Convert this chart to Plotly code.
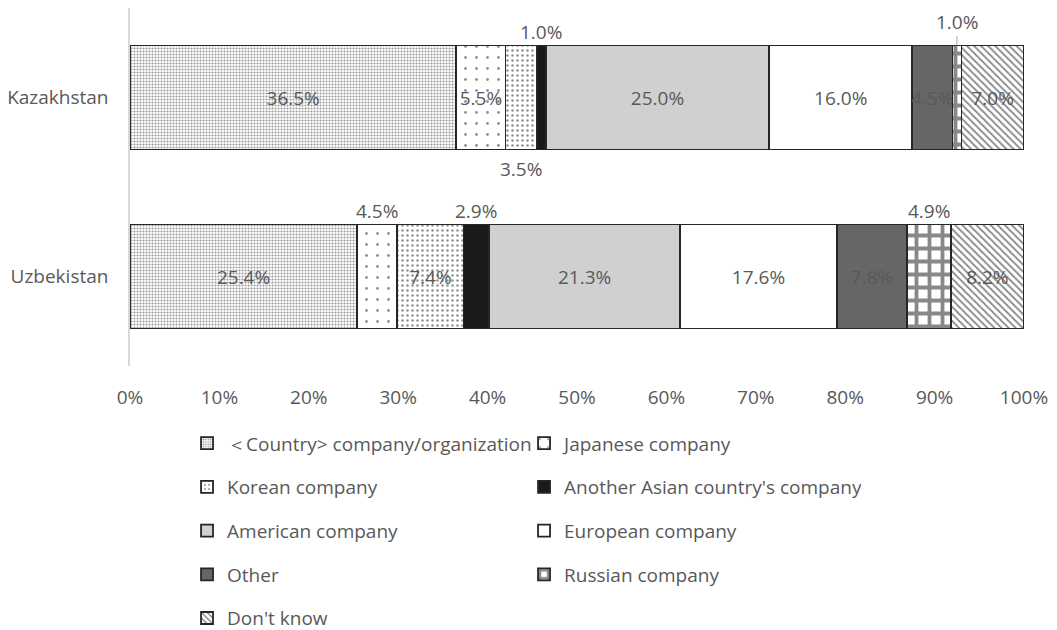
import plotly.graph_objects as go

# ---------------- data ----------------
countries = ["Kazakhstan", "Uzbekistan"]
series_names = [
    "＜Country> company/organization",
    "Japanese company",
    "Korean company",
    "Another Asian country's company",
    "American company",
    "European company",
    "Other",
    "Russian company",
    "Don't know",
]
kazakhstan_values = [36.5, 5.5, 3.5, 1.0, 25.0, 16.0, 4.5, 1.0, 7.0]
uzbekistan_values = [25.4, 4.5, 7.4, 2.9, 21.3, 17.6, 7.8, 4.9, 8.2]
x_tick_values = [0, 10, 20, 30, 40, 50, 60, 70, 80, 90, 100]
x_tick_labels = [f"{v}%" for v in x_tick_values]

# ---------------- styles ----------------
TXT = "#595959"
FONT = "Open Sans"
FS = 19

# label placement per segment: in / above / below / lead (above with leader line)
kaz_label_pos = ["in", "in", "below", "above", "in", "in", "in", "lead", "in"]
uzb_label_pos = ["in", "above", "in", "above", "in", "in", "in", "above", "in"]

styles = [
    dict(color="white", pattern=dict(shape=".", fgcolor="#333333", bgcolor="#ffffff", size=3, solidity=0.4, fillmode="overlay")),
    dict(color="white", pattern=dict(shape=".", fgcolor="#222222", bgcolor="#ffffff", size=11, solidity=0.05, fillmode="overlay")),
    dict(color="white", pattern=dict(shape=".", fgcolor="#222222", bgcolor="#ffffff", size=5, solidity=0.2, fillmode="overlay")),
    dict(color="#1a1a1a"),
    dict(color="#d0d0d0"),
    dict(color="#ffffff"),
    dict(color="#666666"),
    dict(color="white", pattern=dict(shape="+", fgcolor="#111111", bgcolor="#ffffff", size=13, solidity=0.5, fillmode="overlay")),
    dict(color="white", pattern=dict(shape="\\", fgcolor="#111111", bgcolor="#ffffff", size=5, solidity=0.35, fillmode="overlay")),
]

fig = go.Figure()
values_by_country = [kazakhstan_values, uzbekistan_values]
pos_by_country = [kaz_label_pos, uzb_label_pos]

for i, name in enumerate(series_names):
    xs = [vals[i] for vals in values_by_country]
    texts = [f"{vals[i]:.1f}%" if pos[i] == "in" else "" for vals, pos in zip(values_by_country, pos_by_country)]
    marker = dict(line=dict(color="#262626", width=1.8))
    marker.update(styles[i])
    fig.add_trace(go.Bar(
        y=countries, x=xs, orientation="h", name=name,
        legendgroup=f"g{i}",
        marker=marker,
        text=texts, textposition="inside", insidetextanchor="middle",
        textangle=0, constraintext="none",
        textfont=dict(family=FONT, size=FS, color=TXT),
        hoverinfo="skip",
    ))

# outside labels as annotations, positioned from the data
HALF_BAR = 52
for ci, (country, vals, pos) in enumerate(zip(countries, values_by_country, pos_by_country)):
    cum = 0.0
    for i, v in enumerate(vals):
        center = cum + v / 2
        cum += v
        p = pos[i]
        if p == "in":
            continue
        txt = f"{v:.1f}%"
        if p == "above":
            fig.add_annotation(x=center, y=country, text=txt, showarrow=False,
                               yshift=HALF_BAR + 14, font=dict(family=FONT, size=FS, color=TXT))
        elif p == "below":
            fig.add_annotation(x=center, y=country, text=txt, showarrow=False,
                               yshift=-(HALF_BAR + 19), font=dict(family=FONT, size=FS, color=TXT))
        elif p == "lead":
            fig.add_annotation(x=center, y=country, text=txt, showarrow=True,
                               arrowhead=0, arrowwidth=1, arrowcolor="#a6a6a6",
                               ax=0, ay=-24, yshift=HALF_BAR, standoff=0,
                               font=dict(family=FONT, size=FS, color=TXT))

fig.update_layout(
    width=1049, height=622,
    barmode="stack", bargap=0.42,
    plot_bgcolor="white", paper_bgcolor="white",
    margin=dict(l=122, r=33, t=0, b=264, autoexpand=False),
    font=dict(family=FONT, size=FS, color=TXT),
    showlegend=True,
    legend=dict(
        orientation="h", traceorder="grouped",
        x=0.0638, xanchor="left", y=-0.163, yanchor="top",
        entrywidthmode="pixels", entrywidth=292,
        tracegroupgap=16,
        font=dict(family=FONT, size=FS, color=TXT),
        itemclick=False, itemdoubleclick=False,
    ),
)
fig.update_xaxes(
    range=[0, 100], tickmode="array", tickvals=x_tick_values, ticktext=x_tick_labels,
    showgrid=False, zeroline=False, showline=False,
    ticks="outside", ticklen=14, tickcolor="rgba(0,0,0,0)",
    tickfont=dict(family=FONT, size=FS, color=TXT), fixedrange=True,
)
fig.update_yaxes(
    type="category", autorange="reversed",
    showline=True, linecolor="#d9d9d9", linewidth=1.5,
    showgrid=False, zeroline=False,
    ticks="outside", ticklen=16, tickcolor="rgba(0,0,0,0)",
    tickfont=dict(family=FONT, size=FS, color=TXT), fixedrange=True,
)

fig.write_html("out.html")
